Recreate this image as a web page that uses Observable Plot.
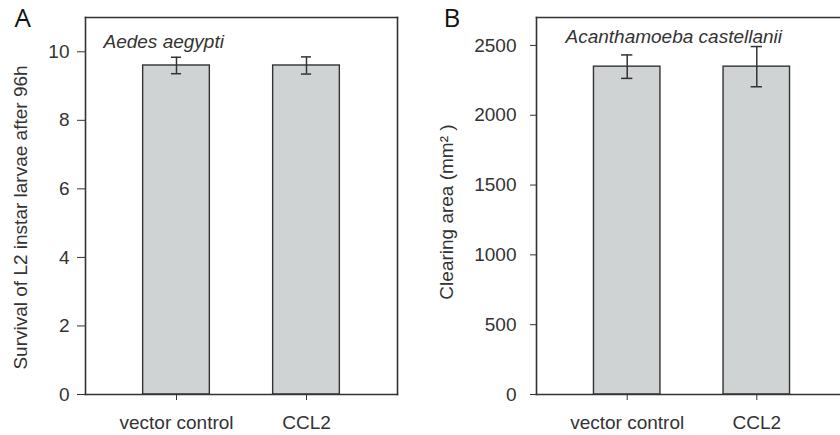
<!DOCTYPE html>
<html>
<head>
<meta charset="utf-8">
<script src="https://cdn.jsdelivr.net/npm/d3@7"></script>
<script src="https://cdn.jsdelivr.net/npm/@observablehq/plot@0.6"></script>
<style>
  html, body { margin: 0; padding: 0; background: #fff; width: 840px; height: 435px; overflow: hidden; }
  #wrap { position: relative; width: 840px; height: 435px; overflow: hidden; }
  .panel { position: absolute; top: 0; }
  .panel svg { max-width: none !important; display: block; }
  #panelA { left: 0; width: 420px; }
  #panelB { left: 420px; width: 460px; }
</style>
</head>
<body>
<div id="wrap">
  <div id="panelA" class="panel"></div>
  <div id="panelB" class="panel"></div>
</div>
<script>
// ---- data ----
const categories = ["vector control", "CCL2"];
const survivalMean = [9.6, 9.6];
const survivalErr = [0.24, 0.25];
const clearingMean = [2348, 2348];
const clearingErr = [84, 144];
const survivalTicks = [0, 2, 4, 6, 8, 10];
const clearingTicks = [0, 500, 1000, 1500, 2000, 2500];
const panelLetters = ["A", "B"];
const speciesLabels = ["Aedes aegypti", "Acanthamoeba castellanii"];
const yTitles = ["Survival of L2 instar larvae after 96h", "Clearing area (mm\u00B2 )"];

const dataA = categories.map((c, i) => ({cat: c, mean: survivalMean[i], err: survivalErr[i]}));
const dataB = categories.map((c, i) => ({cat: c, mean: clearingMean[i], err: clearingErr[i]}));

const ink = "#333";
const barFill = "#cfd3d4";
const font = "'Liberation Sans', Arial, Helvetica, sans-serif";

function panel({data, yDomain, yTicks, width, marginLeft, marginRight, yTickSize, yTickPadding, rightSide,
                letter, letterDx, species, speciesDx, speciesDy, title, titleDx, titleDy, capInset}) {
  return Plot.plot({
    width, height: 435,
    marginLeft, marginRight, marginTop: 17, marginBottom: 41,
    style: {fontSize: "19px", fontFamily: font, color: ink, background: "transparent", overflow: "visible", maxWidth: "none"},
    x: {domain: categories, paddingInner: 0.487, paddingOuter: 0.4435, round: false, label: null},
    y: {domain: yDomain, label: null},
    marks: [
      Plot.barY(data, {x: "cat", y: "mean", fill: barFill, stroke: ink, strokeWidth: 1.4}),
      Plot.ruleX(data, {x: "cat", y1: d => d.mean - d.err, y2: d => d.mean + d.err, stroke: ink, strokeWidth: 1.5}),
      Plot.tickY(data, {x: "cat", y: d => d.mean + d.err, inset: capInset, stroke: ink, strokeWidth: 1.5}),
      Plot.tickY(data, {x: "cat", y: d => d.mean - d.err, inset: capInset, stroke: ink, strokeWidth: 1.5}),
      Plot.frame({anchor: "top", stroke: ink, strokeWidth: 1.6}),
      Plot.frame({anchor: "bottom", stroke: ink, strokeWidth: 1.6}),
      Plot.frame({anchor: "left", stroke: ink, strokeWidth: 1.6}),
      rightSide ? Plot.frame({anchor: "right", stroke: ink, strokeWidth: 1.6}) : null,
      Plot.axisY({ticks: yTicks, tickFormat: d3.format("d"), tickSize: yTickSize, tickPadding: yTickPadding, label: null, stroke: ink}),
      Plot.axisX({tickSize: 6, tickPadding: 15, label: null, stroke: ink}),
      Plot.text([species], {frameAnchor: "top-left", dx: speciesDx, dy: speciesDy, text: d => d,
        textAnchor: "start", lineAnchor: "middle", fontStyle: "italic", fill: ink}),
      Plot.text([title], {frameAnchor: "left", dx: titleDx, dy: titleDy, rotate: -90, text: d => d,
        textAnchor: "middle", lineAnchor: "middle", fill: ink}),
      Plot.text([letter], {frameAnchor: "top-left", dx: letterDx, dy: 1.5, text: d => d, textAnchor: "start",
        lineAnchor: "middle", fontSize: 26, fontFamily: "'Open Sans', sans-serif", fill: "#111"})
    ]
  });
}

document.getElementById("panelA").append(panel({
  data: dataA, yDomain: [0, 11], yTicks: survivalTicks, rightSide: true,
  width: 420, marginLeft: 85, marginRight: 23, yTickSize: 8, yTickPadding: 8,
  letter: panelLetters[0], letterDx: -71,
  species: speciesLabels[0], speciesDx: 18, speciesDy: 24.4,
  title: yTitles[0], titleDx: -65, titleDy: 11.5, capInset: 28.3
}));

document.getElementById("panelB").append(panel({
  data: dataB, yDomain: [0, 2700], yTicks: clearingTicks, rightSide: false,
  width: 460, marginLeft: 116, marginRight: 33, yTickSize: 6, yTickPadding: 14,
  letter: panelLetters[1], letterDx: -93,
  species: speciesLabels[1], speciesDx: 29, speciesDy: 19,
  title: yTitles[1], titleDx: -90, titleDy: 6, capInset: 27.6
}));
</script>
</body>
</html>
